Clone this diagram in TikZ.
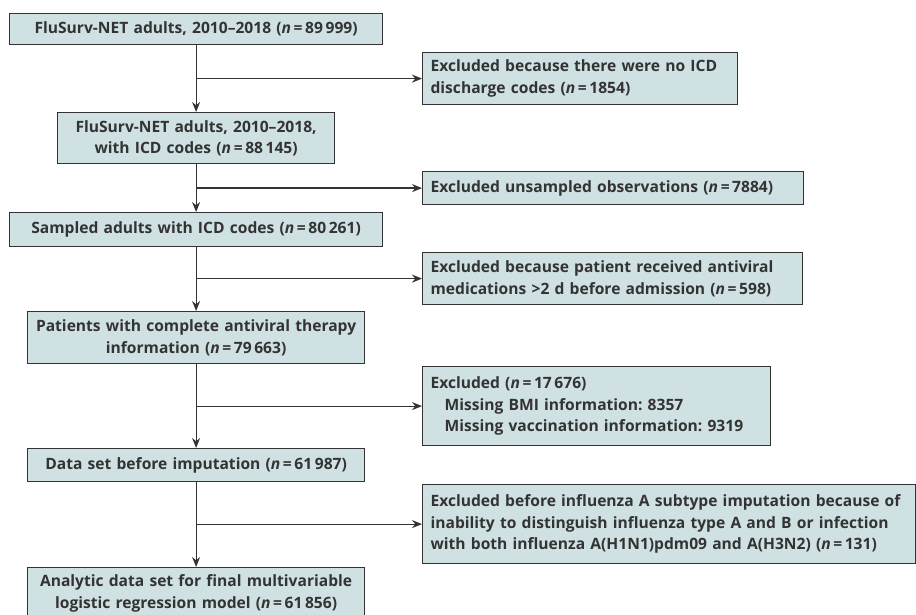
\documentclass[tikz,border=0pt]{standalone}
\usepackage{fontspec}
\setmainfont{Open Sans}
\usetikzlibrary{arrows.meta}
\definecolor{boxfill}{HTML}{CFE1E3}
\definecolor{boxline}{HTML}{333333}
\tikzstyle{stage} = [rectangle, anchor=north west, draw=boxline, fill=boxfill, line width=1.2pt, align=center, inner xsep=5pt, inner ysep=0pt, text=boxline, font=\frenchspacing\bfseries\fontsize{15.6}{21.5}\selectfont]
\tikzstyle{excl} = [stage, align=left, inner xsep=8pt]
\tikzstyle{arrow} = [line width=1.2pt, draw=boxline, -{Stealth[length=10pt,width=8pt]}]
\newcommand{\nn}{\textit{n}\,=\,}

\begin{document}
\begin{tikzpicture}[x=1pt, y=-1pt]
        \useasboundingbox (0,0) rectangle (916,615);
        % main path
        \node (all) [stage, text width=363pt, minimum height=31pt] at (9,13) {FluSurv-NET adults, 2010--2018 (\nn89\,999)};
        \node (icd) [stage, text width=267pt, minimum height=51pt] at (57,112) {FluSurv-NET adults, 2010--2018,\\ with ICD codes (\nn88\,145)};
        \node (sampled) [stage, text width=363pt, minimum height=34pt] at (9,212) {Sampled adults with ICD codes (\nn80\,261)};
        \node (antiviral) [stage, text width=327pt, minimum height=52pt] at (27,311) {Patients with complete antiviral therapy\\ information (\nn79\,663)};
        \node (preimp) [stage, text width=327pt, minimum height=33pt] at (27,448) {Data set before imputation (\nn61\,987)};
        \node (final) [stage, text width=327pt, minimum height=52pt] at (27,567) {Analytic data set for final multivariable\\ logistic regression model (\nn61\,856)};

        % exclusions
        \node (exnoicd) [excl, text width=299pt, minimum height=52pt] at (422,52) {Excluded because there were no ICD\\ discharge codes (\nn1854)};
        \node (exunsamp) [excl, text width=365pt, minimum height=33pt] at (422,171) {Excluded unsampled observations (\nn7884)};
        \node (exmeds) [excl, text width=364pt, minimum height=52pt] at (422,252) {Excluded because patient received antiviral\\ medications >2 d before admission (\nn598)};
        \node (exmiss) [excl, text width=332pt, minimum height=79pt] at (422,366) {Excluded (\nn17\,676)\\ \hspace*{14pt}Missing BMI information: 8357\\ \hspace*{14pt}Missing vaccination information: 9319};
        \node (exsub) [excl, text width=477pt, minimum height=79pt] at (422,484) {Excluded before influenza A subtype imputation because of\\ inability to distinguish influenza type A and B or infection\\ with both influenza A(H1N1)pdm09 and A(H3N2) (\nn131)};

        \coordinate (j1) at (all.south |- exnoicd.west);
        \coordinate (j2) at (icd.south |- exunsamp.west);
        \coordinate (j3) at (sampled.south |- exmeds.west);
        \coordinate (j4) at (antiviral.south |- exmiss.west);
        \coordinate (j5) at (preimp.south |- exsub.west);

        \draw [arrow] (all) -- (icd);
        \draw [arrow] (icd) -- (sampled);
        \draw [arrow] (sampled) -- (antiviral);
        \draw [arrow] (antiviral) -- (preimp);
        \draw [arrow] (preimp) -- (final);

        \draw [arrow] (j1) -- (exnoicd);
        \draw [arrow] (j2) -- (exunsamp);
        \draw [arrow] (j3) -- (exmeds);
        \draw [arrow] (j4) -- (exmiss);
        \draw [arrow] (j5) -- (exsub);
    \end{tikzpicture}
\end{document}
